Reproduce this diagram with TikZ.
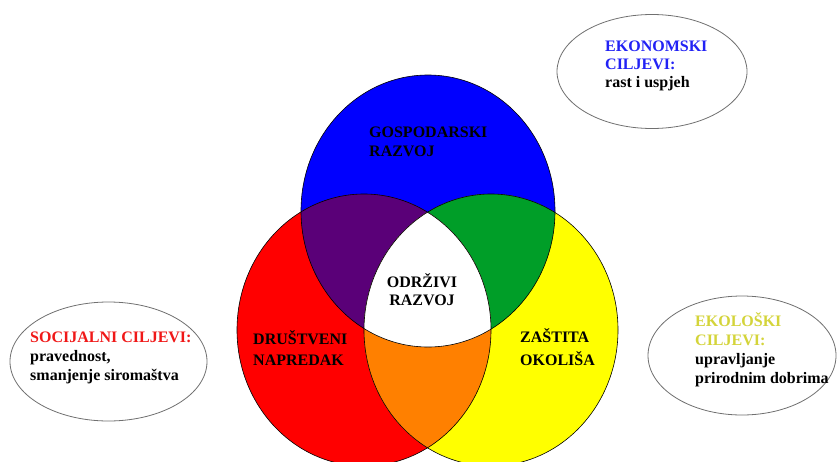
\documentclass[tikz,border=0pt]{standalone}
\usepackage{fontspec}
\setmainfont{Liberation Serif}
\usetikzlibrary{shapes.geometric}
\definecolor{cblue}{HTML}{0000FF}
\definecolor{cred}{HTML}{FF0000}
\definecolor{cyellow}{HTML}{FFFF00}
\definecolor{cpurple}{HTML}{5A0078}
\definecolor{cgreen}{HTML}{009E28}
\definecolor{corange}{HTML}{FF8000}
\definecolor{tblue}{HTML}{2222F5}
\definecolor{tred}{HTML}{F01818}
\definecolor{tyellow}{HTML}{D4D43A}
\definecolor{eline}{HTML}{707070}
\begin{document}
\begin{tikzpicture}[x=1pt,y=-1pt,
  lbl/.style={inner sep=0pt, font=\bfseries\fontsize{16}{19}\selectfont, text=black},
  goal/.style={draw=eline, line width=0.8pt, fill=white},
  rim/.style={draw=black, line width=0.6pt}]
\useasboundingbox (0,0) rectangle (837,461);
\def\blueE{(428,211) ellipse [x radius=127, y radius=136]}
\def\redE{(364,330) ellipse [x radius=127, y radius=136]}
\def\yelE{(491,330) ellipse [x radius=127, y radius=136]}
% base fills
\fill[cblue] \blueE;
\fill[cred] \redE;
\fill[cyellow] \yelE;
% pairwise overlaps
\begin{scope}\clip \redE; \fill[cpurple] \blueE; \end{scope}
\begin{scope}\clip \blueE; \fill[cgreen] \yelE; \end{scope}
\begin{scope}\clip \redE; \fill[corange] \yelE; \end{scope}
\begin{scope}\clip \redE; \clip \yelE; \fill[white] \blueE; \end{scope}
% outlines
\draw[rim] \blueE;
\draw[rim] \redE;
\draw[rim] \yelE;
% goal ellipses
\draw[goal] (652,71.5) ellipse [x radius=95, y radius=57];
\draw[goal] (108.5,361.5) ellipse [x radius=98.5, y radius=59.5];
\draw[goal] (742,355.5) ellipse [x radius=94, y radius=59.5];
% labels (base anchor = baseline of last line)
\node[lbl, align=left, anchor=base west] (gosp) at (369,156) {GOSPODARSKI\\RAZVOJ};
\node[lbl, align=center, anchor=base, font=\bfseries\fontsize{16}{18}\selectfont] (odr) at (422,305) {ODRŽIVI\\RAZVOJ};
\node[lbl, align=left, anchor=base west, font=\bfseries\fontsize{16}{21}\selectfont] (drus) at (253,365) {DRUŠTVENI\\NAPREDAK};
\node[lbl, align=left, anchor=base west, font=\bfseries\fontsize{16}{23}\selectfont] (zast) at (520,365) {ZAŠTITA\\OKOLIŠA};
\node[lbl, align=left, anchor=base west, font=\bfseries\fontsize{16}{18}\selectfont] (ekon) at (605,87) {\textcolor{tblue}{EKONOMSKI}\\\textcolor{tblue}{CILJEVI:}\\rast i uspjeh};
\node[lbl, align=left, anchor=base west] (soc) at (30,380) {\textcolor{tred}{SOCIJALNI CILJEVI:}\\pravednost,\\smanjenje siromaštva};
\node[lbl, align=left, anchor=base west] (eko) at (695,383) {\textcolor{tyellow}{EKOLOŠKI}\\\textcolor{tyellow}{CILJEVI:}\\upravljanje\\prirodnim dobrima};
\end{tikzpicture}
\end{document}
